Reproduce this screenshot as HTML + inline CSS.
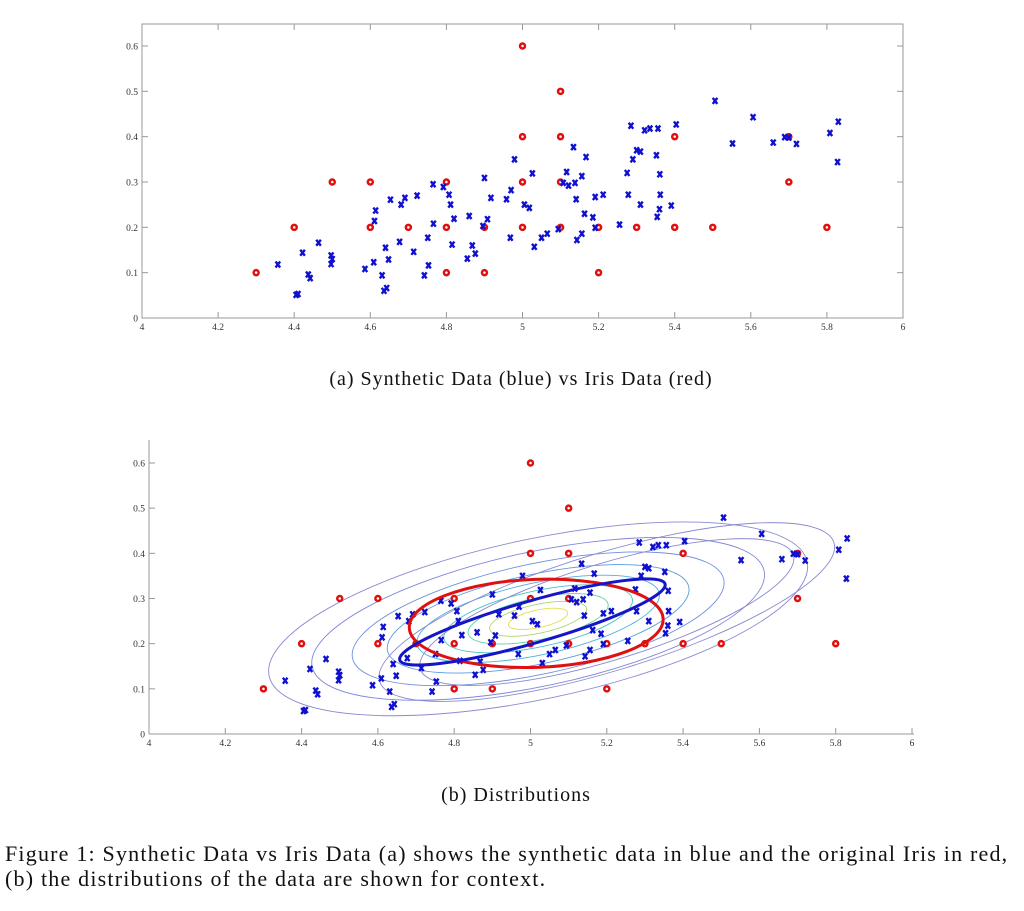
<!DOCTYPE html>
<html><head><meta charset="utf-8">
<style>
body{margin:0;background:#fff;width:1024px;height:911px;overflow:hidden;font-family:"Liberation Serif",serif;}
svg{position:absolute;left:0;top:0}
.cap{position:absolute;font-family:"Liberation Serif",serif;color:#111;white-space:nowrap}
</style></head>
<body>
<svg id="chart" width="1024" height="911"></svg>
<div class="cap" style="left:21px;width:1000px;text-align:center;top:368px;font-size:20px;letter-spacing:1px">(a) Synthetic Data (blue) vs Iris Data (red)</div>
<div class="cap" style="left:16px;width:1000px;text-align:center;top:784px;font-size:20px;letter-spacing:1px">(b) Distributions</div>
<div class="cap" style="left:5px;top:841px;font-size:22px;line-height:25px;letter-spacing:1.2px">Figure 1: Synthetic Data vs Iris Data (a) shows the synthetic data in blue and the original Iris in red,<br>(b) the distributions of the data are shown for context.</div>
<script>
const xTicks=[4,4.2,4.4,4.6,4.8,5,5.2,5.4,5.6,5.8,6];
const yTicks=[0,0.1,0.2,0.3,0.4,0.5,0.6];
const irisX=[4.3,4.4,4.5,4.6,4.6,4.7,4.8,4.8,4.8,4.9,4.9,5.0,5.0,5.0,5.0,5.1,5.1,5.1,5.1,5.2,5.2,5.3,5.4,5.4,5.5,5.7,5.7,5.8];
const irisY=[0.1,0.2,0.3,0.3,0.2,0.2,0.3,0.2,0.1,0.2,0.1,0.6,0.4,0.3,0.2,0.5,0.4,0.3,0.2,0.2,0.1,0.2,0.4,0.2,0.2,0.4,0.3,0.2];
const synX=[4.357,4.422,4.464,4.437,4.442,4.41,4.405,4.497,4.50,4.497,4.586,4.609,4.631,4.636,4.643,4.64,4.648,4.611,4.614,4.653,4.677,4.681,4.691,4.723,4.714,4.742,4.753,4.751,4.766,4.765,4.792,4.807,4.811,4.82,4.815,4.855,4.86,4.868,4.876,4.896,4.908,4.90,4.917,4.958,4.97,4.968,4.979,5.005,5.018,5.031,5.026,5.05,5.065,5.094,5.107,5.121,5.138,5.116,5.134,5.167,5.156,5.141,5.163,5.143,5.156,5.185,5.191,5.191,5.212,5.255,5.275,5.278,5.285,5.29,5.30,5.31,5.31,5.321,5.335,5.356,5.352,5.361,5.362,5.36,5.354,5.391,5.404,5.506,5.552,5.606,5.659,5.689,5.70,5.72,5.808,5.83,5.828];
const synY=[0.118,0.144,0.166,0.096,0.088,0.053,0.051,0.138,0.13,0.119,0.108,0.123,0.094,0.06,0.066,0.155,0.129,0.214,0.237,0.261,0.168,0.25,0.265,0.27,0.146,0.094,0.116,0.177,0.208,0.295,0.289,0.272,0.25,0.219,0.162,0.131,0.225,0.16,0.142,0.203,0.218,0.309,0.265,0.262,0.282,0.177,0.35,0.25,0.243,0.157,0.319,0.177,0.186,0.196,0.298,0.292,0.298,0.322,0.377,0.355,0.313,0.262,0.23,0.172,0.186,0.222,0.267,0.199,0.272,0.206,0.32,0.272,0.424,0.35,0.37,0.367,0.25,0.414,0.418,0.418,0.359,0.317,0.272,0.24,0.223,0.248,0.427,0.479,0.385,0.443,0.387,0.399,0.398,0.384,0.408,0.433,0.344];

const svg=document.getElementById('chart');
const NS='http://www.w3.org/2000/svg';
function mk(tag,attrs,parent){const e=document.createElementNS(NS,tag);for(const k in attrs)e.setAttribute(k,attrs[k]);(parent||svg).appendChild(e);return e;}

function drawPanel(P,boxed,name){
  const g=mk('g',{});
  
  
  const sx=v=>P.x0+(v-4)*(P.x1-P.x0)/2;
  const sy=v=>P.y0-v*(P.y0-P.y6)/0.6;
  if(boxed){
    const r=mk('rect',{x:P.x0,y:P.top,width:P.x1-P.x0,height:P.y0-P.top,fill:'none',stroke:'#999','stroke-width':1},g);
    
    
  }else{
    mk('line',{x1:P.x0,y1:P.top,x2:P.x0,y2:P.y0,stroke:'#999'},g);
    mk('line',{x1:P.x0,y1:P.y0,x2:P.x1+2,y2:P.y0,stroke:'#999'},g);
  }
  xTicks.forEach(v=>{
    const x=sx(v);
    mk('line',{x1:x,y1:P.y0,x2:x,y2:P.y0-6,stroke:'#999'},g);
    if(boxed)mk('line',{x1:x,y1:P.top,x2:x,y2:P.top+6,stroke:'#999'},g);
    const t=mk('text',{x:x,y:P.y0+12,'font-size':9.5,'text-anchor':'middle',fill:'#333','font-family':'Liberation Serif, serif'},g);
    t.textContent=String(v);
    
    
  });
  yTicks.forEach(v=>{
    const y=sy(v);
    mk('line',{x1:P.x0,y1:y,x2:P.x0+6,y2:y,stroke:'#999'},g);
    if(boxed)mk('line',{x1:P.x1,y1:y,x2:P.x1-6,y2:y,stroke:'#999'},g);
    const t=mk('text',{x:P.x0-4,y:y+3.5,'font-size':9.5,'text-anchor':'end',fill:'#333','font-family':'Liberation Serif, serif'},g);
    t.textContent=String(v);
    
    
  });
  return {g,sx,sy};
}

function drawPoints(g,sx,sy){
  irisX.forEach((v,i)=>{
    const c=mk('circle',{cx:sx(v),cy:sy(irisY[i]),r:2.5,fill:'#fff',stroke:'#e01010','stroke-width':2.5},g);
    
    
  });
  synX.forEach((v,i)=>{
    const x=sx(v),y=sy(synY[i]);
    const p=mk('path',{d:`M${x-2.3},${y-3}L${x+2.3},${y+3}M${x+2.3},${y-3}L${x-2.3},${y+3}`,stroke:'#1010d0','stroke-width':2.4},g);
    
    
  });
}

const A=drawPanel({x0:142,x1:903,y0:318,y6:46,top:24},true,'scatter-panel-a');
drawPoints(A.g,A.sx,A.sy);

const B=drawPanel({x0:149,x1:912,y0:734,y6:463,top:440},false,'distribution-panel-b');
const cg=mk('g',{},B.g);


const levels=[1,0.84,0.69,0.56,0.45,0.35,0.26,0.18,0.11];
const cols=['#8a8ad0','#7f86d6','#6f8fdc','#5a9be0','#4cb0dc','#45c2cc','#5fcfa8','#a9d66c','#e4de4a'];
const cx=B.sx(5.02),cy=B.sy(0.255);
levels.forEach((s,i)=>{
  const e=mk('ellipse',{cx:cx,cy:cy,rx:275*s,ry:80*s,fill:'none',stroke:cols[i],'stroke-width':0.9,transform:`rotate(-12 ${cx} ${cy})`},cg);
  
  
});
const cx2=B.sx(5.2),cy2=B.sy(0.27);
[0.95,0.78].forEach((s,i)=>{
  const e=mk('ellipse',{cx:cx2,cy:cy2,rx:250*s,ry:62*s,fill:'none',stroke:'#8a8ad0','stroke-width':0.9,transform:`rotate(-17 ${cx2} ${cy2})`},cg);
  
  
});
drawPoints(B.g,B.sx,B.sy);
const rcx=B.sx(5.015),rcy=B.sy(0.245);
const re=mk('ellipse',{cx:rcx,cy:rcy,rx:127,ry:44,fill:'none',stroke:'#e01010','stroke-width':3,transform:`rotate(-2 ${rcx} ${rcy})`},B.g);


const bcx=B.sx(5.005),bcy=B.sy(0.248);
const be=mk('ellipse',{cx:bcx,cy:bcy,rx:138,ry:21,fill:'none',stroke:'#1515c8','stroke-width':3,transform:`rotate(-16 ${bcx} ${bcy})`},B.g);


</script>
</body></html>
